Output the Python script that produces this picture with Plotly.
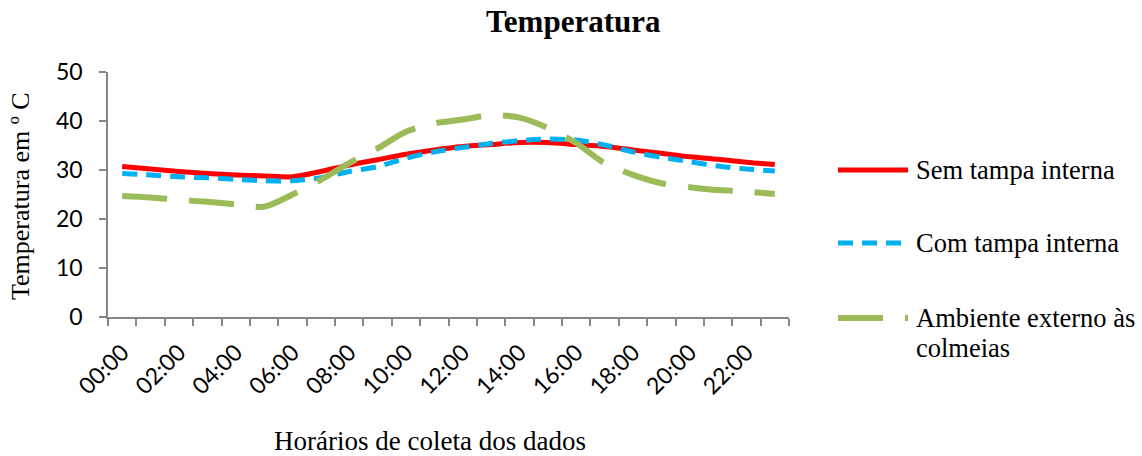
import plotly.graph_objects as go

# Hourly collection times (24 readings)
hours = [f"{h:02d}:00" for h in range(24)]

# Temperature (°C) readings per hour
sem_tampa = [30.7, 30.2, 29.7, 29.3, 29.0, 28.8, 28.6, 29.7, 31.0, 32.1, 33.2, 34.1,
             34.8, 35.2, 35.6, 35.6, 35.2, 34.8, 34.1, 33.4, 32.7, 32.2, 31.6, 31.1]
com_tampa = [29.3, 29.0, 28.6, 28.4, 28.1, 27.8, 27.8, 28.4, 29.7, 30.7, 32.4, 33.7,
             34.6, 35.4, 36.0, 36.3, 36.1, 35.1, 33.7, 32.6, 31.7, 30.8, 30.2, 29.8]
ambiente = [24.7, 24.4, 23.9, 23.5, 23.0, 22.5, 25.0, 28.0, 31.4, 34.4, 37.8, 39.5,
            40.3, 41.2, 40.7, 38.6, 35.5, 31.4, 29.0, 27.3, 26.5, 25.9, 25.6, 25.1]

y_ticks = [0, 10, 20, 30, 40, 50]

xpos = list(range(len(hours)))
serif = "Liberation Serif, Times New Roman, serif"
sans = "Lato, Calibri, sans-serif"
axis_grey = "#868686"

# Plot-area geometry in pixels (used to place legend and titles in paper units)
W, H = 1142, 456
ML, MR, MT, MB = 108, 353, 72, 139
PW, PH = W - ML - MR, H - MT - MB


def px_x(x):
    return (x - ML) / PW


def px_y(y):
    return (H - MB - y) / PH


series = [
    (["Sem tampa interna"], sem_tampa, "#FF0000", "solid", 5),
    (["Com tampa interna"], com_tampa, "#00B0F0", "15px,9px", 5),
    (["Ambiente externo às", "colmeias"], ambiente, "#9BBB59", "45px,22px", 6),
]

fig = go.Figure()
for lines, vals, color, dash, width in series:
    fig.add_trace(go.Scatter(
        x=xpos, y=vals, name=" ".join(lines), mode="lines",
        line=dict(color=color, dash=dash, width=width, shape="spline", smoothing=0.8),
        showlegend=False,
    ))

# Legend drawn beside the plot: a line sample and its label for each series
legend_rows = [170, 243, 318]
for (lines, vals, color, dash, width), row in zip(series, legend_rows):
    fig.add_shape(type="line", xref="paper", yref="paper",
                  x0=px_x(838), x1=px_x(908), y0=px_y(row), y1=px_y(row),
                  line=dict(color=color, dash=dash, width=width))
    for k, text in enumerate(lines):
        fig.add_annotation(text=text, xref="paper", yref="paper",
                           x=px_x(914), y=px_y(row + 30 * k),
                           xanchor="left", yanchor="middle", showarrow=False,
                           font=dict(family=serif, size=26.5, color="black"))

fig.update_layout(
    width=W, height=H,
    margin=dict(l=ML, r=MR, t=MT, b=MB),
    paper_bgcolor="white", plot_bgcolor="white",
    title=dict(text="<b>Temperatura</b>", x=0.502, xanchor="center", y=0.953, yanchor="middle",
               font=dict(family=serif, size=31, color="black")),
    showlegend=False,
    xaxis=dict(
        range=[-0.5, 23.5], tickmode="array",
        tickvals=xpos[::2], ticktext=hours[::2], tickangle=-45,
        ticks="", ticklabelstandoff=11,
        tickfont=dict(family=sans, size=23, color="black"),
        showline=True, linecolor=axis_grey, linewidth=1.5,
        showgrid=False, zeroline=False,
        minor=dict(tickvals=[k - 0.5 for k in range(len(hours) + 1)],
                   ticks="outside", ticklen=7, tickcolor=axis_grey, tickwidth=1.5),
    ),
    yaxis=dict(
        range=[0, 50], tickmode="array", tickvals=y_ticks,
        ticks="outside", ticklen=7, tickcolor=axis_grey, tickwidth=1.5,
        ticklabelstandoff=12,
        tickfont=dict(family=sans, size=23, color="black"),
        showline=True, linecolor=axis_grey, linewidth=1.5,
        showgrid=False, zeroline=False,
    ),
)

# Axis titles
fig.add_annotation(
    text="Horários de coleta dos dados", xref="paper", yref="paper",
    x=px_x(430), y=px_y(441),
    xanchor="center", yanchor="middle", showarrow=False,
    font=dict(family=serif, size=27, color="black"),
)
fig.add_annotation(
    text="Temperatura em º C", xref="paper", yref="paper",
    x=px_x(20), y=px_y(196), textangle=-90,
    xanchor="center", yanchor="middle", showarrow=False,
    font=dict(family=serif, size=26, color="black"),
)

fig.write_html("out.html")
